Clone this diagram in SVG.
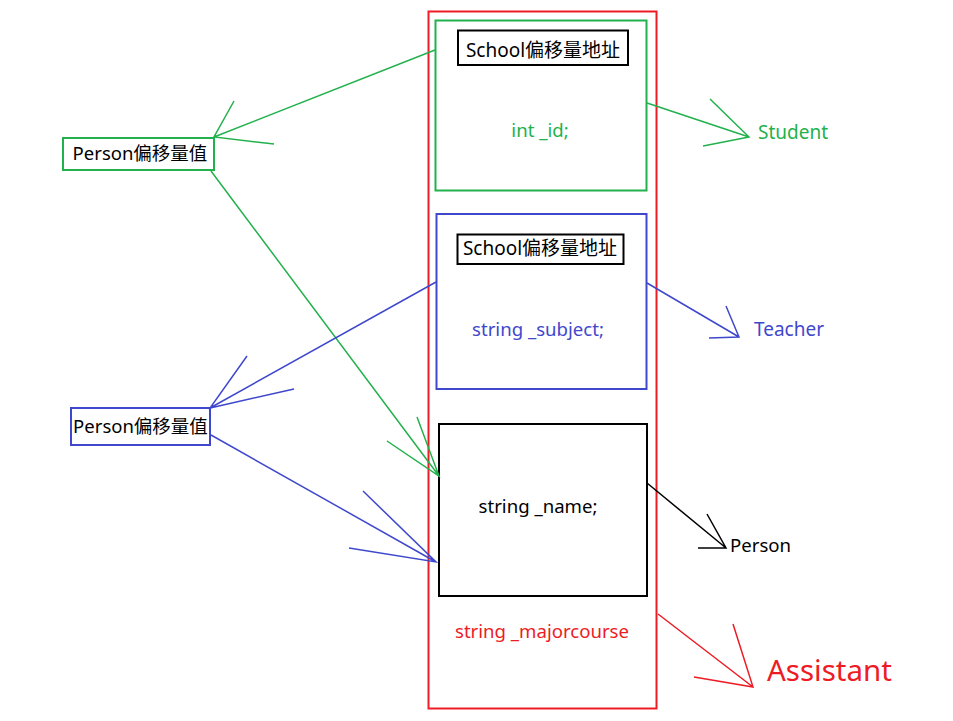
<svg xmlns="http://www.w3.org/2000/svg" width="953" height="721" viewBox="0 0 953 721">
<style>
text{font-family:"Noto Sans","Noto Sans CJK SC",sans-serif;}
.g{stroke:#22b14c;fill:none;stroke-width:1.5}
.b{stroke:#3f48cc;fill:none;stroke-width:1.5}
.k{stroke:#000;fill:none;stroke-width:1.5}
.r{stroke:#ed1c24;fill:none;stroke-width:1.5}
</style>
<rect width="953" height="721" fill="#fff"/>
<g id="assistant-box">
<rect x="428.5" y="11.5" width="228" height="697" fill="none" stroke="#ed1c24" stroke-width="2"/>
<text x="542" y="638" font-size="18.6" fill="#ed1c24" text-anchor="middle">string _majorcourse</text>
</g>
<g id="student-box">
<rect x="435.5" y="20.5" width="211" height="170" fill="none" stroke="#22b14c" stroke-width="2"/>
<rect x="458" y="30.5" width="170" height="34.5" fill="none" stroke="#000" stroke-width="2"/>
<text x="543" y="57" font-size="19" fill="#000" text-anchor="middle">School偏移量地址</text>
<text x="540" y="137" font-size="18.6" fill="#22b14c" text-anchor="middle">int _id;</text>
</g>
<g id="teacher-box">
<rect x="436.5" y="214" width="210" height="175" fill="none" stroke="#3f48cc" stroke-width="2"/>
<rect x="457.5" y="234.5" width="166" height="29.5" fill="none" stroke="#000" stroke-width="2"/>
<text x="540" y="255" font-size="19" fill="#000" text-anchor="middle">School偏移量地址</text>
<text x="538" y="336" font-size="18.6" fill="#3f48cc" text-anchor="middle">string _subject;</text>
</g>
<g id="person-box">
<rect x="439" y="424" width="208" height="172" fill="none" stroke="#000" stroke-width="2"/>
<text x="538" y="513" font-size="18.6" fill="#000" text-anchor="middle">string _name;</text>
</g>
<g id="person-offset-green">
<rect x="63" y="138" width="151" height="32" fill="none" stroke="#22b14c" stroke-width="2"/>
<text x="140" y="160" font-size="18.5" fill="#000" text-anchor="middle">Person偏移量值</text>
</g>
<g id="person-offset-blue">
<rect x="71" y="408" width="139" height="37" fill="none" stroke="#3f48cc" stroke-width="2"/>
<text x="140.5" y="433" font-size="18.5" fill="#000" text-anchor="middle">Person偏移量值</text>
</g>
<g id="label-student"><text x="758" y="139" font-size="19" fill="#22b14c">Student</text></g>
<g id="label-teacher"><text x="754" y="336" font-size="19" fill="#3f48cc">Teacher</text></g>
<g id="label-person"><text x="730" y="552" font-size="18.6" fill="#000">Person</text></g>
<g id="label-assistant"><text x="767" y="681" font-size="29.5" fill="#ed1c24">Assistant</text></g>
<g id="connectors">
<path class="g" d="M435 50 L214 137 M234 101 L214 137 L274 144"/>
<path class="g" d="M211 171 L439 476 M417 417 L439 476 L387 441"/>
<path class="g" d="M647 103 L749 137 M710 99 L749 137 L703 146"/>
<path class="b" d="M436 282 L210 408 M247 356 L210 408 L294 389"/>
<path class="b" d="M211 435 L436 562 M363 491 L436 562 L349 548"/>
<path class="b" d="M647 283 L739 337 M726 306 L739 337 L709 338"/>
<path class="k" d="M647 483 L726 548 M707 514 L726 548 L698 548"/>
<path class="r" d="M658 614 L753 687 M733 624 L753 687 L694 677"/>
</g>
</svg>
